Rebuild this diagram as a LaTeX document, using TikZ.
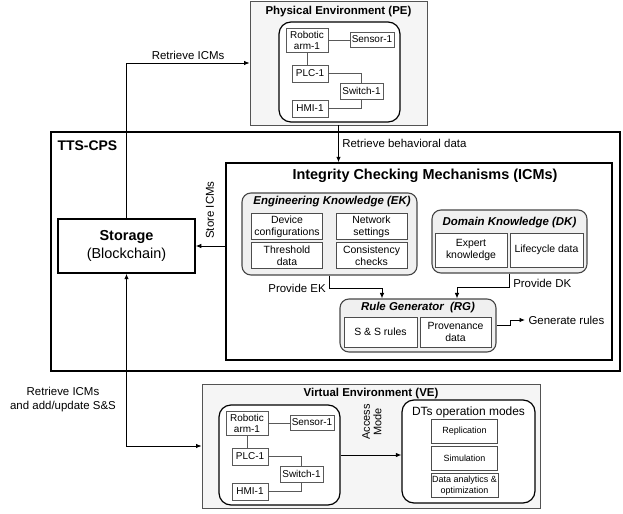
\documentclass[tikz,border=0pt]{standalone}
\usepackage{fontspec}
\setmainfont{Liberation Sans}
\usetikzlibrary{arrows.meta}

\begin{document}
\begin{tikzpicture}[x=1bp,y=-1bp,>={Latex[length=5.5bp,width=4.5bp]},
  envbox/.style={draw=gray!65!black,fill=gray!8,line width=.8pt},
  netbox/.style={draw,fill=white,line width=1.2pt,rounded corners=12bp},
  dev/.style={draw=gray!70!black,fill=white,inner sep=1pt,align=center,font=\fontsize{10}{11}\selectfont},
  wire/.style={draw=gray!70!black,line width=.6pt},
  kbox/.style={draw=gray!55!black,fill=gray!12,line width=1.1pt,rounded corners=9bp},
  item/.style={draw=gray!60!black,fill=white,inner sep=1pt,align=center,font=\fontsize{10.5}{12}\selectfont},
  boldbox/.style={draw,line width=1.5pt},
  ktitle/.style={font=\fontsize{11.5}{13}\selectfont\bfseries\itshape},
  etitle/.style={font=\fontsize{11.5}{13}\selectfont\bfseries},
  lbl/.style={font=\fontsize{11.5}{13}\selectfont},
  conn/.style={line width=.9pt,->}]
\useasboundingbox (0,0) rectangle (623,514);

\node[boldbox,minimum width=569bp,minimum height=239bp] (tts) at (335.5,251.5) {};
\node[font=\fontsize{14}{16}\selectfont\bfseries,anchor=west] (tts-lbl) at (54,146) {TTS-CPS};
\node[boldbox,minimum width=386bp,minimum height=197bp] (icm) at (419,261.5) {};
\node[font=\fontsize{14.5}{17}\selectfont\bfseries] (icm-title) at (425,176) {Integrity Checking Mechanisms (ICMs)};
\node[boldbox,minimum width=137bp,minimum height=54bp,align=center,font=\fontsize{14.5}{18}\selectfont] (storage) at (126.5,246) {\textbf{Storage}\\(Blockchain)};

\node[kbox,minimum width=175bp,minimum height=82bp] (ek) at (329.5,234) {};
\node[ktitle] (ek-title) at (332,202) {Engineering Knowledge (EK)};
\foreach \t [count=\i from 0] in {{Device\\configurations},{Network\\settings},{Threshold\\data},{Consistency\\checks}} {
  \pgfmathsetmacro{\px}{287+84.5*mod(\i,2)}
  \pgfmathsetmacro{\py}{226.5+29*int(\i/2)}
  \node[item,minimum width=71bp,minimum height=26bp] (ek\i) at (\px,\py) {\t};
}

\node[kbox,minimum width=155bp,minimum height=63bp] (dk) at (509.5,241.5) {};
\node[ktitle] (dk-title) at (509.5,223) {Domain Knowledge (DK)};
\node[item,minimum width=72bp,minimum height=34bp] (dk0) at (471,250) {Expert\\knowledge};
\node[item,minimum width=73bp,minimum height=34bp] (dk1) at (546.5,250) {Lifecycle data};

\node[kbox,minimum width=156bp,minimum height=53bp] (rg) at (418,325.5) {};
\node[ktitle] (rg-title) at (418,308) {Rule Generator\ \ (RG)};
\node[item,minimum width=73bp,minimum height=30bp] (rg0) at (380.5,332) {S \& S rules};
\node[item,minimum width=71bp,minimum height=30bp] (rg1) at (455.5,332) {Provenance\\data};

\node[envbox,minimum width=177bp,minimum height=124bp] (pe) at (338.5,63) {};
\node[etitle] (pe-title) at (338.5,12) {Physical Environment (PE)};
\node[envbox,minimum width=338bp,minimum height=124bp] (ve) at (371,446) {};
\node[etitle] (ve-title) at (371,394) {Virtual Environment (VE)};

\foreach \e/\dx/\dy in {pe/0/0,ve/-60/383} {
  \begin{scope}[shift={(\dx,\dy)}]
    \node[netbox,minimum width=121bp,minimum height=100bp] (\e-net) at (339.5,72) {};
    \node[dev,minimum width=42bp,minimum height=24bp] (\e-arm) at (307,40) {Robotic\\arm-1};
    \node[dev,minimum width=44bp,minimum height=15bp] (\e-sensor) at (372,39.5) {Sensor-1};
    \node[dev,minimum width=36bp,minimum height=17bp] (\e-plc) at (310,73.5) {PLC-1};
    \node[dev,minimum width=43bp,minimum height=16bp] (\e-switch) at (361.5,91) {Switch-1};
    \node[dev,minimum width=36bp,minimum height=17bp] (\e-hmi) at (310,108.5) {HMI-1};
    \draw[wire] (\e-arm.east) -- (\e-arm.east -| \e-sensor.west);
    \draw[wire] (\e-arm.south) -- (\e-arm.south |- \e-plc.north);
    \draw[wire] (\e-plc.east) -| (\e-switch.north);
    \draw[wire] (\e-switch.south) |- (\e-hmi.east);
  \end{scope}
}

\node[netbox,minimum width=133bp,minimum height=103bp] (dt) at (468.5,451.5) {};
\node[font=\fontsize{12}{14}\selectfont] (dt-title) at (468.5,412) {DTs operation modes};
\foreach \m [count=\i] in {Replication,Simulation,{Data analytics \&\\optimization}} {
  \node[item,minimum width=66bp,minimum height=24bp,font=\fontsize{9}{10.5}\selectfont] (mode\i) at (464.5,404.5+27*\i) {\m};
}

\draw[conn] (storage.north) |- (pe.west) node[lbl,pos=.75,above] {Retrieve ICMs};
\draw[conn] (pe.south) -- (pe.south |- icm.north) node[lbl,midway,right] {Retrieve behavioral data};
\draw[conn] (storage.east -| icm.west) -- (storage.east);
\node[lbl,rotate=90] (store-lbl) at (210,210) {Store ICMs};
\draw[conn,<->] (storage.south) |- (ve.west);
\node[lbl,align=center,font=\fontsize{11.5}{14}\selectfont] (sync-lbl) at (63,400) {Retrieve ICMs\\and add/update S\&S};

\draw[conn] (ek.south) -- ++(0,13) node[lbl,left] {Provide EK} -| ([xshift=-36bp]rg.north);
\draw[conn] (dk.south) -- ++(0,14) node[lbl,pos=.7,right] {Provide DK} -| ([xshift=39bp]rg.north);
\node[lbl,anchor=west] (gen-lbl) at (525,320) {Generate rules};
\draw[conn] (rg.east) -- ++(14,0) |- (gen-lbl.west);

\draw[conn] (ve-net.east) -- (ve-net.east -| dt.west);
\node[lbl,rotate=90,align=center,font=\fontsize{11}{11.5}\selectfont] (access-lbl) at (372,422) {Access\\Mode};
\end{tikzpicture}
\end{document}
